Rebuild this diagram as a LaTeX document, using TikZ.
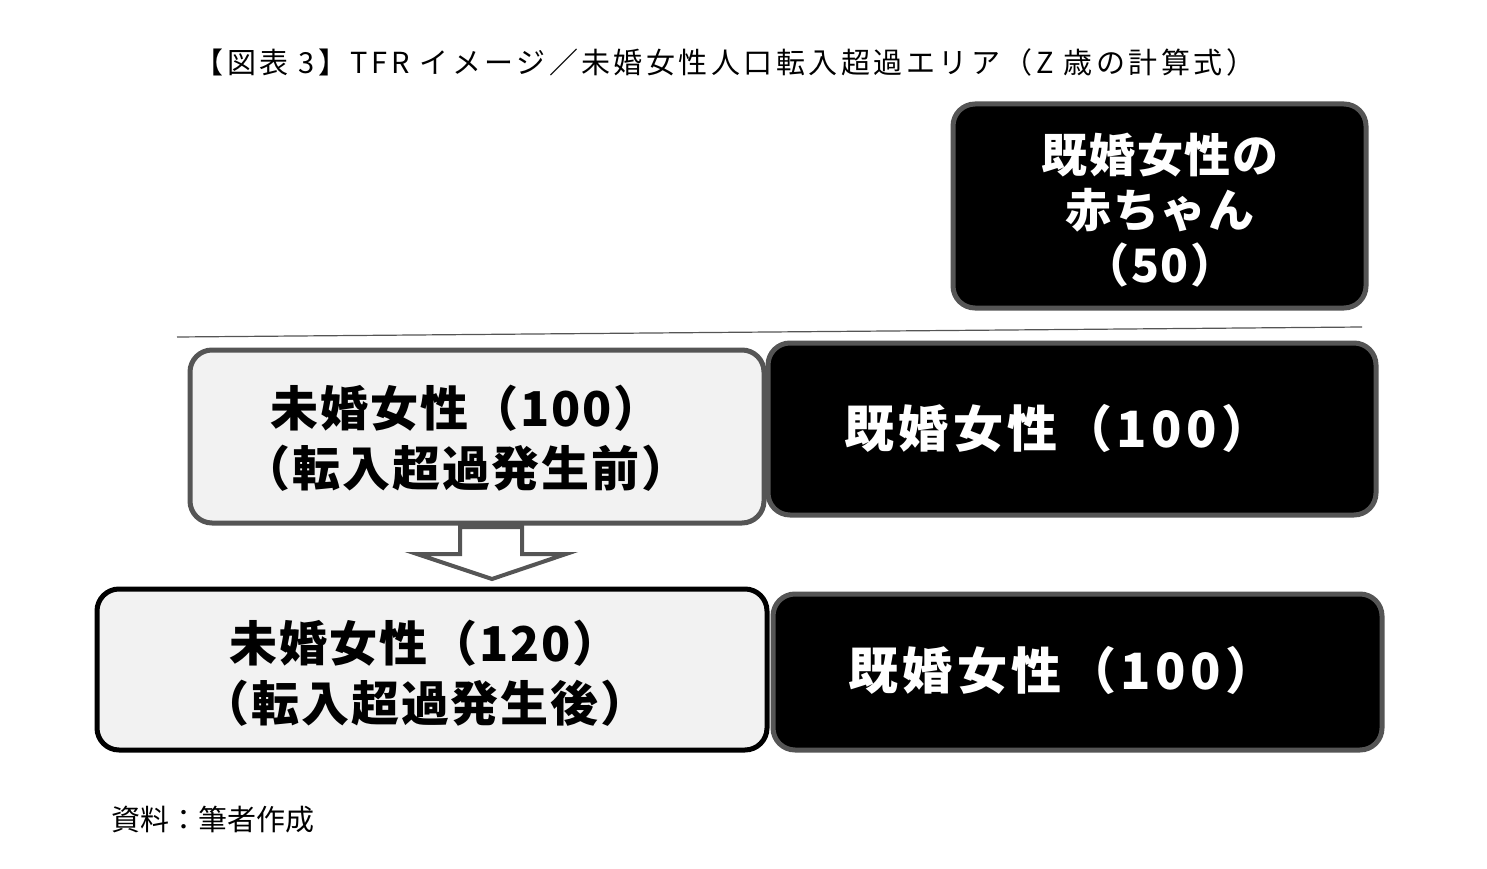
\documentclass[tikz,border=0pt]{standalone}
\usepackage{fontspec}
\setmainfont{Noto Sans CJK JP}
\newfontfamily\widefont[LetterSpace=12]{Noto Sans CJK JP}
\newfontfamily\midfont[LetterSpace=4]{Noto Sans CJK JP}
\newfontfamily\blkfont[LetterSpace=9]{Noto Sans CJK JP}
\definecolor{bord}{HTML}{555555}
\definecolor{lightf}{HTML}{F2F2F2}
\tikzset{
  blackbox/.style={draw=bord,line width=5pt,fill=black,rounded corners=22pt},
  lightbox/.style={draw=bord,line width=5pt,fill=lightf,rounded corners=22pt},
  bigtxt/.style={font=\midfont\fontsize{48}{60}\selectfont\bfseries,align=center},
}
\begin{document}
\begin{tikzpicture}[x=1pt,y=-1pt]
\useasboundingbox (0,0) rectangle (1487,869);
\node[font=\widefont\fontsize{29}{32}\selectfont] (title) at (725,62) {【図表 3】TFR イメージ／未婚女性人口転入超過エリア（Z 歳の計算式）};
\draw[blackbox] (953,104) rectangle (1366,308);
\node[text=white,align=center,font=\midfont\fontsize{46}{55}\selectfont\bfseries] (t1) at (1160,210) {既婚女性の\\赤ちゃん\\（50）};
\coordinate (l1) at (177,337); \coordinate (l2) at (1362,327);
\draw[bord,line width=1.2pt] (l1) -- (l2);
\draw[lightbox] (190,350) rectangle (764,523);
\node[bigtxt] (t2) at (466,438) {未婚女性（100）\\（転入超過発生前）};
\draw[blackbox] (768,343) rectangle (1376,515);
\node[text=white,font=\blkfont\fontsize{50}{60}\selectfont\bfseries] (t3) at (1058,428) {既婚女性（100）};
\draw[bord,line width=4pt,fill=white,line join=miter] (460,527) -- (522,527) -- (522,554) -- (566,554) -- (492,579) -- (417,554) -- (460,554) -- cycle;
\draw[lightbox,draw=black] (97,589) rectangle (767,750);
\node[bigtxt] (t4) at (425,673) {未婚女性（120）\\（転入超過発生後）};
\draw[blackbox] (773,594) rectangle (1382,750);
\node[text=white,font=\blkfont\fontsize{50}{60}\selectfont\bfseries] (t5) at (1062,670) {既婚女性（100）};
\node[anchor=west,font=\fontsize{29}{32}\selectfont] (src) at (108,820) {資料：筆者作成};
\end{tikzpicture}
\end{document}
